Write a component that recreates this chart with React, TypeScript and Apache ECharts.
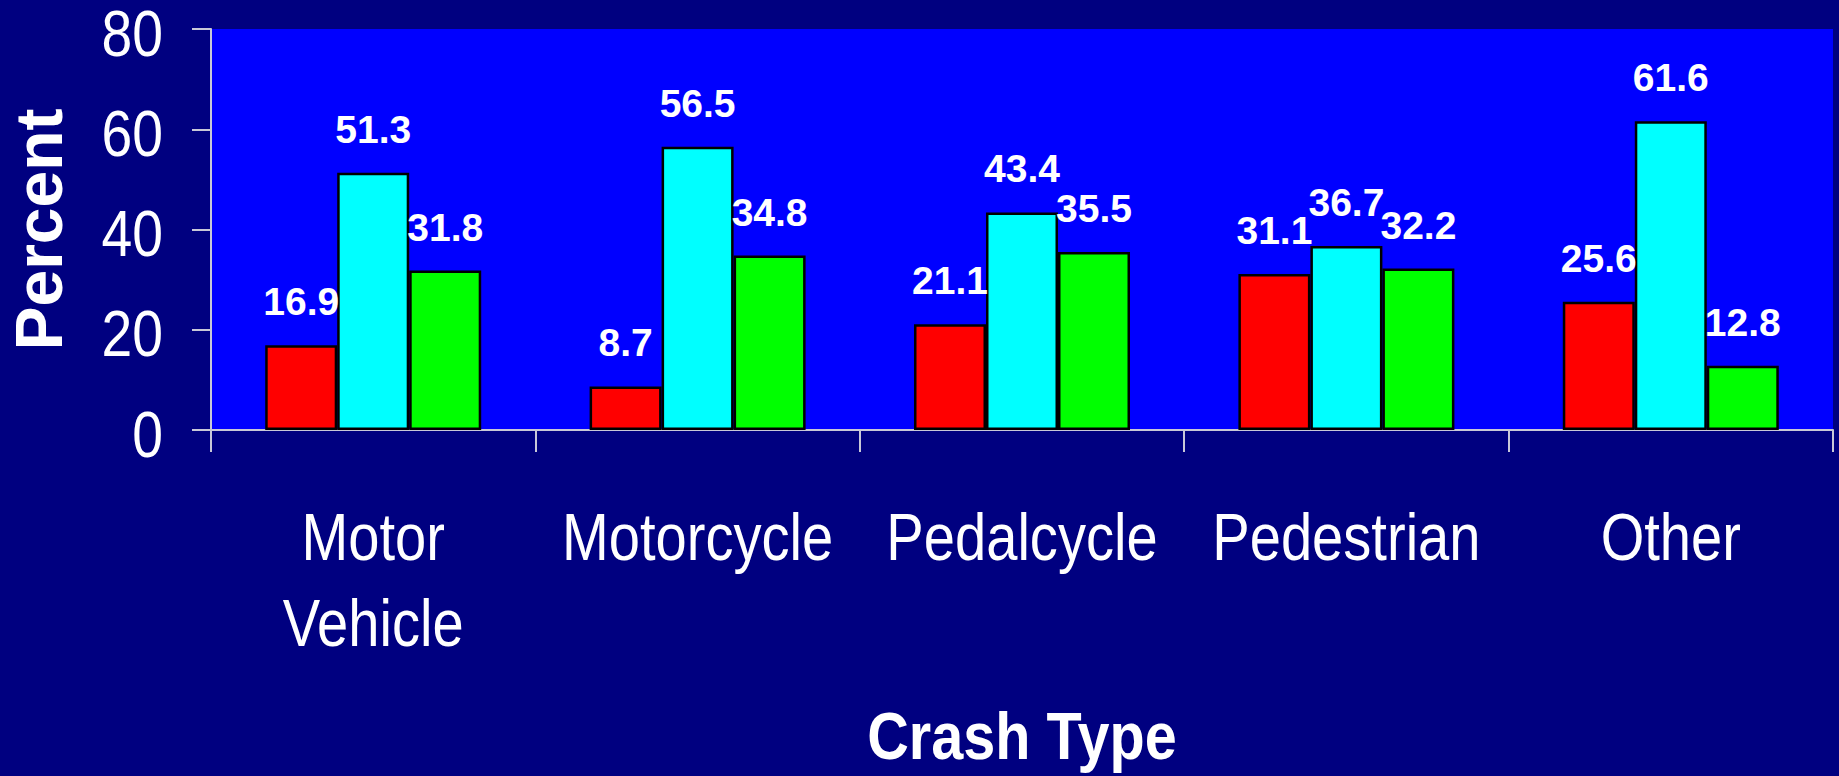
import React, { useEffect, useRef } from "react";
import * as echarts from "echarts";

const categories = ["Motor\nVehicle", "Motorcycle", "Pedalcycle", "Pedestrian", "Other"];
const seriesRed = [16.9, 8.7, 21.1, 31.1, 25.6];
const seriesCyan = [51.3, 56.5, 43.4, 36.7, 61.6];
const seriesGreen = [31.8, 34.8, 35.5, 32.2, 12.8];
const yTickValues = [0, 20, 40, 60, 80];
const yTicks = { min: 0, max: 80, interval: 20 };
const xAxisTitle = "Crash Type";
const yAxisTitle = "Percent";

const FONT = "'Liberation Sans', Arial, Helvetica, sans-serif";
const NARROW_SCALE = 0.85;

export default function App() {
  const ref = useRef<HTMLDivElement>(null);
  useEffect(() => {
    if (!ref.current) return;
    const chart = echarts.init(ref.current, null, { renderer: "svg" });
    const label = {
      show: true,
      position: "top",
      distance: 24,
      color: "#ffffff",
      fontFamily: FONT,
      fontWeight: "bold",
      fontSize: 39,
    };
    const mk = (name: string, data: number[], color: string) => ({
      name,
      type: "bar",
      data,
      barWidth: 72,
      barGap: "0%",
      itemStyle: { color, borderColor: "#000000", borderWidth: 2.5 },
      label,
    });
    const axisColor = "#c8c8d8";
    chart.setOption({
      animation: false,
      backgroundColor: "#000080",
      grid: {
        left: 211,
        right: 6,
        top: 29,
        bottom: 346,
        show: true,
        backgroundColor: "#0000FF",
        borderWidth: 0,
        containLabel: false,
        outerBoundsMode: "none",
      },
      xAxis: {
        type: "category",
        data: categories,
        axisLine: { show: true, lineStyle: { color: axisColor, width: 2 } },
        axisTick: { show: true, length: 22, lineStyle: { color: axisColor, width: 2 } },
        axisLabel: { show: false },
      },
      yAxis: {
        type: "value",
        min: yTicks.min,
        max: yTicks.max,
        interval: yTicks.interval,
        name: yAxisTitle,
        nameLocation: "middle",
        nameGap: 139,
        nameRotate: 90,
        nameTextStyle: {
          color: "#ffffff",
          fontFamily: FONT,
          fontWeight: "bold",
          fontSize: 66,
        },
        splitLine: { show: false },
        axisLine: { show: true, lineStyle: { color: axisColor, width: 2 } },
        axisTick: { show: true, length: 19, lineStyle: { color: axisColor, width: 2 } },
        axisLabel: { show: false },
      },
      series: [
        mk("Series 1", seriesRed, "#FF0000"),
        mk("Series 2", seriesCyan, "#00FFFF"),
        mk("Series 3", seriesGreen, "#00FF00"),
      ],
    });

    // Narrow (condensed) axis texts, placed through the chart's own scales
    const graphics: any[] = [];
    const zeroY = chart.convertToPixel({ yAxisIndex: 0 }, 0) as number;
    const axisX = chart.convertToPixel({ xAxisIndex: 0 }, 0) as number;
    const catW = (chart.convertToPixel({ xAxisIndex: 0 }, 1) as number) - axisX;
    const leftX = axisX - catW / 2;
    yTickValues.forEach((v) => {
      const py = chart.convertToPixel({ yAxisIndex: 0 }, v) as number;
      graphics.push({
        type: "text",
        x: leftX - 48,
        y: py + 4,
        scaleX: NARROW_SCALE,
        silent: true,
        style: {
          text: String(v),
          fill: "#ffffff",
          fontFamily: FONT,
          fontSize: 65,
          lineHeight: 56,
          align: "right",
          verticalAlign: "middle",
        },
      });
    });
    categories.forEach((c, i) => {
      const px = chart.convertToPixel({ xAxisIndex: 0 }, i) as number;
      graphics.push({
        type: "text",
        x: px,
        y: zeroY + 64,
        scaleX: NARROW_SCALE,
        silent: true,
        style: {
          text: c,
          fill: "#ffffff",
          fontFamily: FONT,
          fontSize: 66,
          lineHeight: 86,
          align: "center",
          verticalAlign: "top",
        },
      });
    });
    const firstX = chart.convertToPixel({ xAxisIndex: 0 }, 0) as number;
    const lastX = chart.convertToPixel({ xAxisIndex: 0 }, categories.length - 1) as number;
    graphics.push({
      type: "text",
      x: (firstX + lastX) / 2,
      y: zeroY + 305,
      scaleX: 0.86,
      silent: true,
      style: {
        text: xAxisTitle,
        fill: "#ffffff",
        fontFamily: FONT,
        fontWeight: "bold",
        fontSize: 67,
        lineHeight: 70,
        align: "center",
        verticalAlign: "middle",
      },
    });
    chart.setOption({ graphic: graphics });
    return () => chart.dispose();
  }, []);
  return (
    <div
      ref={ref}
      style={{ position: "fixed", left: 0, top: 0, width: 1839, height: 776 }}
    />
  );
}
